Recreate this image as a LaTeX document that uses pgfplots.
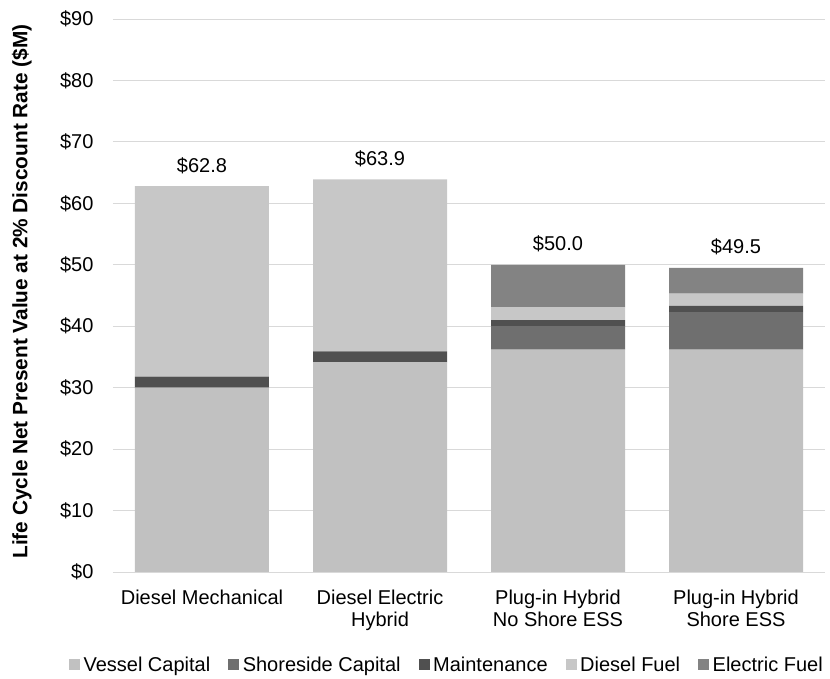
\documentclass[border=0pt]{standalone}
\usepackage{pgfplots}
\usepackage{pgfplotstable}
\pgfplotsset{compat=1.18}
\usepackage{fontspec}
\setmainfont{Liberation Sans}

\definecolor{vesselc}{HTML}{C1C1C1}
\definecolor{shorec}{HTML}{6F6F6F}
\definecolor{maintc}{HTML}{505050}
\definecolor{dieselc}{HTML}{C7C7C7}
\definecolor{elecc}{HTML}{838383}
\definecolor{gridc}{HTML}{D9D9D9}

% Life cycle NPV components ($M) per propulsion option
\pgfplotstableread{
x vessel shore maint diesel elec total
0 30.0 0.0 1.8 31.0 0.0 62.8
1 34.1 0.0 1.8 28.0 0.0 63.9
2 36.2 3.8 1.0 2.1 6.9 50.0
3 36.2 6.1 1.0 2.0 4.2 49.5
}\costs

\newcommand{\chartfont}{\fontsize{20}{22}\selectfont}

\pgfplotsset{
  costbar/.style={
    fill=#1, draw=none,
    legend image code/.code={\fill[##1] (0pt,-5.5pt) rectangle (11pt,5.5pt);}
  },
  frame/.style={
    scale only axis, width=712pt, height=553pt,
    at={(0pt,0pt)}, anchor=south west,
    xmin=-0.5, xmax=3.5, ymin=0, ymax=90,
    /pgf/number format/assume math mode=true,
  }
}

\begin{document}
\begin{tikzpicture}
\path[use as bounding box] (-113pt,-107pt) rectangle (717pt,572pt);
\begin{axis}[
  frame,
  ybar stacked, bar width=134pt,
  xtick={0,1,2,3},
  xticklabels={Diesel Mechanical, Diesel Electric\\Hybrid, Plug-in Hybrid\\No Shore ESS, Plug-in Hybrid\\Shore ESS},
  xticklabel style={align=center, font=\chartfont, yshift=-14pt},
  ytick={0,10,...,90},
  yticklabel={\$\pgfmathprintnumber{\tick}},
  yticklabel style={font=\chartfont, xshift=-16pt},
  ymajorgrids, grid style={draw=gridc, line width=0.9pt},
  axis line style={draw=none}, major tick length=0pt,
  ylabel={Life Cycle Net Present Value at 2\% Discount Rate (\$M)},
  ylabel style={font=\fontsize{20.8}{22}\selectfont\bfseries, at={(axis description cs:-0.128,0.507)}, anchor=center},
  legend columns=5,
  legend style={at={(axis description cs:0.47,-0.168)}, anchor=center, draw=none,
    font=\chartfont, nodes={inner xsep=3.5pt},
    /tikz/every even column/.append style={column sep=14.5pt},
    /tikz/every odd column/.append style={column sep=0pt}},
  legend cell align=left,
]
\addplot[costbar=vesselc] table[x=x, y=vessel]{\costs};
\addplot[costbar=shorec] table[x=x, y=shore]{\costs};
\addplot[costbar=maintc] table[x=x, y=maint]{\costs};
\addplot[costbar=dieselc] table[x=x, y=diesel]{\costs};
\addplot[costbar=elecc] table[x=x, y=elec]{\costs};
\legend{Vessel Capital, Shoreside Capital, Maintenance, Diesel Fuel, Electric Fuel}
\end{axis}
% bar totals written above each stack
\begin{axis}[frame, hide axis]
\addplot[draw=none, mark=none, nodes near coords={\$\pgfmathprintnumber[fixed,fixed zerofill,precision=1]{\pgfplotspointmeta}},
  every node near coord/.append style={font=\chartfont, text=black, anchor=south, yshift=9pt}]
  table[x=x, y=total]{\costs};
\end{axis}
\end{tikzpicture}
\end{document}
